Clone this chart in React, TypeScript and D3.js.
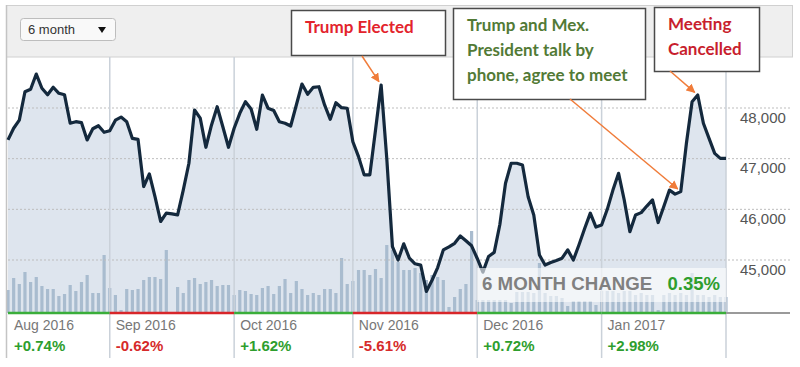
import * as d3 from 'd3';

// IPC index, one value per trading day (Aug 2016 - Jan 2017)
const prices = [
  47370, 47600, 47760, 48320, 48370, 48670, 48390, 48260, 48410, 48290,
  48260, 47700, 47730, 47710, 47370, 47590, 47650, 47520, 47550, 47760,
  47820, 47730, 47400, 47380, 46450, 46700, 46250, 45760, 45925, 45910,
  45890, 46380, 46910, 47960, 47800, 47225, 47665, 48025, 47630, 47225,
  47600, 47895, 48125, 47980, 47580, 48256, 47995, 47950, 47730, 47700,
  47645, 48060, 48473, 48270, 48408, 48420, 48060, 47776, 48105, 48006,
  47995, 47335, 47040, 46680, 46680, 47560, 48454, 47000, 45265, 45000,
  45320, 45035, 44925, 44900, 44380, 44600, 44850, 45200, 45260, 45330,
  45475, 45380, 45280, 45030, 44760, 45070, 45150, 45700, 46515, 46910,
  46910, 46875, 46250, 45890, 45100, 44900, 44950, 44990, 45035, 45200,
  45000, 45300, 45620, 45925, 45650, 45690, 46000, 46380, 46710, 46185,
  45560, 45890, 45935, 46065, 46185, 45740, 46055, 46380, 46300, 46350,
  47305, 48125, 48256, 47700, 47400, 47105, 47005, 47005,
];

// traded volume, millions of shares
const volumes = [
  69, 105, 87, 123, 93, 108, 81, 72, 72, 51,
  57, 84, 66, 93, 114, 60, 60, 174, 75, 54,
  9, 72, 69, 72, 99, 108, 108, 102, 189, 0,
  78, 60, 99, 105, 87, 93, 99, 81, 84, 84,
  54, 69, 66, 57, 54, 75, 81, 57, 81, 102,
  60, 96, 72, 54, 60, 54, 72, 72, 60, 165,
  87, 96, 129, 129, 114, 132, 105, 204, 189, 153,
  129, 129, 135, 120, 99, 114, 108, 99, 18, 48,
  72, 87, 246, 39, 39, 39, 39, 39, 39, 30,
  63, 63, 63, 60, 150, 60, 51, 51, 45, 21,
  36, 36, 36, 36, 24, 66, 66, 66, 60, 66,
  66, 54, 60, 54, 54, 9, 54, 60, 54, 60,
  54, 120, 54, 54, 48, 54, 48, 48,
];

const monthLabels = ['Aug 2016', 'Sep 2016', 'Oct 2016', 'Nov 2016', 'Dec 2016', 'Jan 2017'];
const monthStarts = [0, 18, 40, 61, 83, 105];
const monthChanges = [0.74, -0.62, 1.62, -5.61, 0.72, 2.98];
const yTicks = [45000, 46000, 47000, 48000];
const sixMonthChange = 0.35;

const annotations = [
  { lines: ['Trump Elected'], color: '#e3232c', day: 66, box: [291, 10, 154, 45], from: [362, 56] },
  {
    lines: ['Trump and Mex.', 'President talk by', 'phone, agree to meet'],
    color: '#527a36', day: 119, box: [453, 8, 192, 91], from: [570, 99],
  },
  { lines: ['Meeting', 'Cancelled'], color: '#c81e2e', day: 122, box: [654, 7, 105, 64], from: [670, 71] },
];

const W = 800;
const H = 367;
const left = 8;
const right = 726;
const top = 57;
const bottom = 313;

export default function App() {
  const x = d3.scaleLinear().domain([0, prices.length - 1]).range([left, right]);
  const y = d3.scaleLinear().domain([45000, 48000]).range([260, 108]);
  const v = d3.scaleLinear().domain([0, 300]).range([0, 100]);

  const line = d3.line<number>().x((_, i) => x(i)).y(d => y(d));
  const area = d3.area<number>().x((_, i) => x(i)).y0(bottom).y1(d => y(d));

  const bounds = monthStarts.map(m => x(m)).concat([right]);
  const fmt = d3.format(',');
  const font = 'Liberation Sans, Arial, sans-serif';
  const annoFont = 'Lato, Open Sans, sans-serif';

  return (
    <svg width={W} height={H} style={{ position: 'absolute', left: 0, top: 0, background: '#fff' }}>
      <defs>
        <marker id="arr" viewBox="0 0 10 10" refX="9" refY="5" markerWidth="9" markerHeight="9"
          markerUnits="userSpaceOnUse" orient="auto">
          <path d="M0,0 L10,5 L0,10 Z" fill="#f07c3a" />
        </marker>
      </defs>

      {/* header */}
      <rect x={6.5} y={5.5} width={786} height={51.5} fill="#efefef" stroke="#d0d0d0" />
      <rect x={20.5} y={18.5} width={95} height={22} rx={3} fill="#f9f9f9" stroke="#bdbdbd" />
      <text x={28} y={34} fontFamily={font} fontSize={13} fill="#333">6 month</text>
      <path d="M98,27 L106,27 L102,33 Z" fill="#111" />

      {/* area + volume */}
      <path d={area(prices) || ''} fill="#dee5ee" />
      {volumes.map((d, i) => (
        <rect key={i} x={x(i) - 1.6} y={bottom - v(d)} width={3.2} height={v(d)} fill="#a9bccf" />
      ))}

      {/* grid */}
      {yTicks.map(t => (
        <g key={t}>
          <line x1={left} x2={790} y1={y(t)} y2={y(t)} stroke="#bdbdbd" strokeDasharray="2 2" />
          <text x={740} y={y(t) + 14.5} fontFamily={font} fontSize={15} fill="#555">{fmt(t)}</text>
        </g>
      ))}
      {bounds.slice(1).map((b, i) => (
        <line key={i} x1={b} x2={b} y1={top} y2={358} stroke="#cad1d9" strokeWidth={1.5} />
      ))}
      <line x1={6.5} x2={6.5} y1={5} y2={358} stroke="#c4c4c4" strokeWidth={1.5} />

      <path d={line(prices) || ''} fill="none" stroke="#14293d" strokeWidth={3.2} strokeLinejoin="round" />

      {/* 6 month change band */}
      <rect x={bounds[4]} y={268} width={right - bounds[4]} height={34} fill="#fff" opacity={0.6} />
      <text x={482} y={290} fontFamily={font} fontSize={18.7} fontWeight="bold" fill="#808080">6 MONTH CHANGE</text>
      <text x={720} y={290} textAnchor="end" fontFamily={font} fontSize={18.5} fontWeight="bold" fill="#2e9e2e">
        {sixMonthChange.toFixed(2)}%
      </text>

      {/* month axis */}
      <line x1={right} x2={790} y1={bottom} y2={bottom} stroke="#9a9a9a" strokeWidth={2} />
      {monthLabels.map((m, i) => {
        const c = monthChanges[i];
        const col = c >= 0 ? '#2e9e2e' : '#d62a2a';
        return (
          <g key={m}>
            <line x1={bounds[i]} x2={bounds[i + 1]} y1={bottom} y2={bottom} stroke={c >= 0 ? '#3aae3a' : '#d8262a'} strokeWidth={2.5} />
            <text x={bounds[i] + 6} y={330} fontFamily={font} fontSize={14} fill="#777">{m}</text>
            <text x={bounds[i] + 6} y={351} fontFamily={font} fontSize={15} fontWeight="bold" fill={col}>
              {(c >= 0 ? '+' : '') + c.toFixed(2)}%
            </text>
          </g>
        );
      })}

      {/* annotations */}
      {annotations.map((a, k) => {
        const [bx, by, bw, bh] = a.box;
        const tx = x(a.day);
        const ty = y(prices[a.day]);
        const dx = tx - a.from[0];
        const dy = ty - a.from[1];
        const len = Math.sqrt(dx * dx + dy * dy);
        const ex = tx - (dx / len) * 4;
        const ey = ty - (dy / len) * 4;
        return (
          <g key={k}>
            <rect x={bx + 0.5} y={by + 0.5} width={bw} height={bh} fill="#fff" stroke="#4a4a4a" strokeWidth={1.5} />
            {a.lines.map((l, j) => (
              <text key={j} x={bx + 14} y={by + 23 + j * 25} fontFamily={annoFont} fontSize={17} fontWeight="bold" fill={a.color}>{l}</text>
            ))}
            <line x1={a.from[0]} y1={a.from[1]} x2={ex} y2={ey} stroke="#f07c3a" strokeWidth={1.5} markerEnd="url(#arr)" />
          </g>
        );
      })}
    </svg>
  );
}
